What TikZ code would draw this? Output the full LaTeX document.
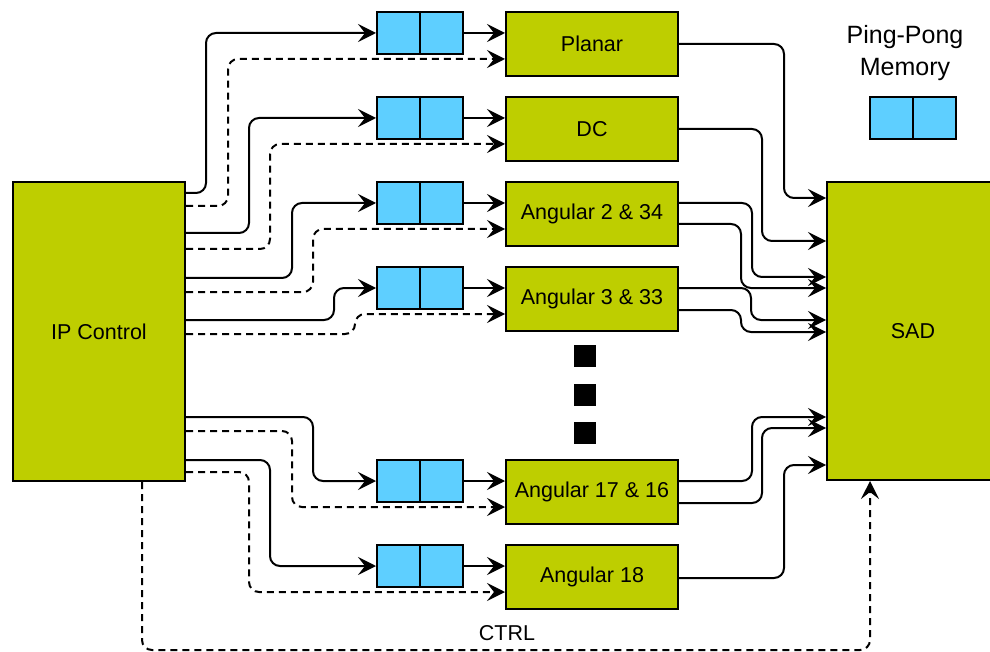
\documentclass[tikz,border=0pt]{standalone}
\usepackage{fontspec}
\setmainfont{Liberation Sans}
\usetikzlibrary{arrows.meta}
\definecolor{blockgreen}{RGB}{190,206,0}
\definecolor{memblue}{RGB}{94,207,255}
\begin{document}
\begin{tikzpicture}[x=1pt,y=-1pt,
  line width=2pt, font=\fontsize{21.5}{25}\selectfont,
  >={Stealth[length=18pt,width=18pt,inset=7pt]},
  blk/.style={draw, fill=blockgreen, minimum width=172pt, minimum height=64pt, inner sep=0pt},
  mem/.style={draw, fill=memblue, minimum width=86pt, minimum height=42pt, inner sep=0pt},
  wire/.style={->, rounded corners=10pt},
  ctlwire/.style={wire, dash pattern=on 7pt off 5pt},
  dot/.style={fill=black, minimum size=22pt, inner sep=0pt},
]
\clip (0,0) rectangle (990,652);

% main blocks
\node[blk, minimum height=299pt] (ipc) at (99,331.5) {IP Control};
\node[blk, minimum height=298pt] (sad) at (913,331) {SAD};

\node[blk] (planar) at (592,44)  {Planar};
\node[blk] (dc)     at (592,129) {DC};
\node[blk] (a2)     at (592,214) {Angular 2 \& 34};
\node[blk] (a3)     at (592,299) {Angular 3 \& 33};
\node[blk] (a17)    at (592,492) {Angular 17 \& 16};
\node[blk] (a18)    at (592,577) {Angular 18};

% ellipsis between the angular blocks
\node[dot] (dot1) at (585,356) {};
\node[dot] (dot2) at (585,395) {};
\node[dot] (dot3) at (585,433) {};

% ping-pong buffers in front of each block
\foreach \m/\b in {m1/planar, m2/dc, m3/a2, m4/a3, m5/a17, m6/a18} {
  \node[mem] (\m) at ([yshift=11pt]\b.west -| 420,0) {};
  \draw (\m.north) -- (\m.south);
  \draw[->] (\m.east) -- (\m.east -| \b.west);
}

% data (solid) and control (dashed) lines from IP Control
\foreach \sy/\sx/\dy/\dx/\m/\b in {193/206/206/228/m1/planar, 233/249/249/270/m2/dc,
    278/292/292/313/m3/a2, 320/334/334/355/m4/a3, 417/313/431/292/m5/a17, 460/270/472/249/m6/a18} {
  \coordinate (s\m) at (ipc.east |- 0,\sy);
  \coordinate (d\m) at (ipc.east |- 0,\dy);
  \draw[wire] (s\m) -- (\sx,\sy) |- (\m.west);
  \draw[ctlwire] (d\m) -- (\dx,\dy) |- ([yshift=-15pt]\b.west);
}

% block outputs into SAD
\foreach \b/\oy/\vx/\iy in {planar/44/784/198, dc/129/762/241, a2/203/752/277, a2/224/741/288,
    a3/288/751/320, a3/310/741/332, a17/481/752/417, a17/503/762/428, a18/578/784/465} {
  \draw[wire] (\b.east |- 0,\oy) -- (\vx,\oy) |- (sad.west |- 0,\iy);
}

% CTRL loop from IP Control to SAD
\draw[ctlwire] (ipc.south -| 142,0) -- (142,650) -| (sad.south -| 870,0);
\node (ctrl) at (507,633) {CTRL};

% legend
\node[align=center, font=\fontsize{25}{32}\selectfont] (legtext) at (905,53) {Ping-Pong\\Memory};
\node[mem] (legend) at (913,118.5) {};
\draw (legend.north) -- (legend.south);
\end{tikzpicture}
\end{document}
